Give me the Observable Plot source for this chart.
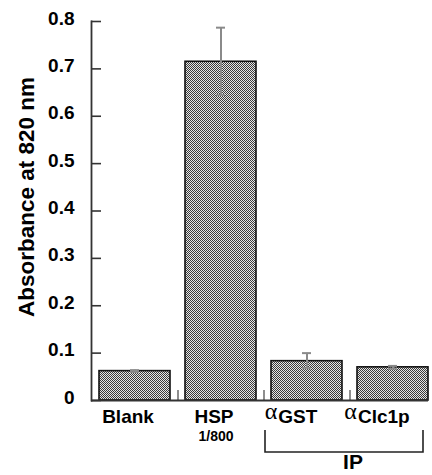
<!DOCTYPE html>
<html>
<head>
<meta charset="utf-8">
<script src="https://cdn.jsdelivr.net/npm/d3@7"></script>
<script src="https://cdn.jsdelivr.net/npm/@observablehq/plot@0.6"></script>
<style>
  html, body { margin: 0; padding: 0; background: #fff; }
  #chart svg { display: block; }
</style>
</head>
<body>
<div id="chart"></div>
<script>
// ---- data ----
const categories = ["Blank", "HSP", "αGST", "αClc1p"];
const absorbance = [0.062, 0.715, 0.083, 0.070];
const errLow     = [0.060, 0.645, 0.068, 0.067];
const errHigh    = [0.064, 0.787, 0.100, 0.073];
const subLabels  = ["", "1/800", "", ""];
const yTicks      = [0, 0.1, 0.2, 0.3, 0.4, 0.5, 0.6, 0.7, 0.8];
const yTickLabels = ["0", "0.1", "0.2", "0.3", "0.4", "0.5", "0.6", "0.7", "0.8"];
const yTitle = "Absorbance at 820 nm";
const groupLabel = "IP";
const groupMembers = ["αGST", "αClc1p"];
const boundaryTicks = ["HSP", "αGST", "αClc1p"];

const data = categories.map((c, i) => ({
  cat: c, value: absorbance[i], lo: errLow[i], hi: errHigh[i], sub: subLabels[i]
}));
const tickData = yTicks.map((v, i) => ({ v, label: yTickLabels[i] }));
const plainLabels = data.filter(d => !groupMembers.includes(d.cat));
const groupLabels = data.filter(d => groupMembers.includes(d.cat));

const font = "'Liberation Sans', Arial, Helvetica, sans-serif";

const plot = Plot.plot({
  width: 432,
  height: 475,
  marginTop: 21,
  marginBottom: 75,
  marginLeft: 91,
  marginRight: 4,
  style: { fontFamily: font, fontWeight: "bold", background: "#fff", color: "#000", overflow: "visible" },
  x: { domain: categories, range: [91, 436], paddingInner: 0.18, paddingOuter: 0.09, axis: null },
  y: { domain: [0, 0.8], axis: null },
  marks: [
    Plot.barY(data, { x: "cat", y: "value", fill: "url(#checker)", stroke: "#111", strokeWidth: 1.6 }),
    Plot.ruleX(data, { x: "cat", y1: "lo", y2: "hi", stroke: "#8a8a8a", strokeWidth: 2 }),
    Plot.tickY(data, { x: "cat", y: "hi", stroke: "#8a8a8a", strokeWidth: 2, insetLeft: 31, insetRight: 31 }),
    Plot.tickY(data, { x: "cat", y: "lo", stroke: "#8a8a8a", strokeWidth: 2, insetLeft: 31, insetRight: 31 }),
    // y ticks pointing inward
    Plot.axisY({ ticks: yTicks, tickSize: 10, dx: 10, fill: "none", label: null, stroke: "#333", strokeWidth: 1.6 }),
    // y tick labels
    Plot.text(tickData, { y: "v", text: "label", frameAnchor: "left", textAnchor: "end", dx: -17, dy: -3,
      fontSize: 19, fontWeight: "bold", fill: "#000" }),
    // small boundary ticks on baseline
    Plot.axisX({ ticks: boundaryTicks, tickSize: 10, dy: -10, dx: -43, fill: "none", label: null, stroke: "#444", strokeWidth: 1.2 }),
    Plot.frame({ anchor: "left", stroke: "#333", strokeWidth: 1.8 }),
    Plot.ruleY([0], { stroke: "#333", strokeWidth: 1.8 }),
    // category labels
    Plot.text(plainLabels, { x: "cat", text: "cat", frameAnchor: "bottom", dx: -7, dy: 22.5, fontSize: 19, fontWeight: "bold" }),
    Plot.text(groupLabels, { x: "cat", text: "cat", frameAnchor: "bottom", dx: -16, dy: 22.5, fontSize: 19, fontWeight: "bold" }),
    Plot.text(data.filter(d => d.sub), { x: "cat", text: "sub", frameAnchor: "bottom", dx: -5, dy: 40.5, fontSize: 14, fontWeight: "bold" }),
    Plot.text([{ cat: groupMembers[groupMembers.length - 1], label: groupLabel }], { x: "cat", text: "label", frameAnchor: "bottom", dx: -40, dy: 68, fontSize: 21, fontWeight: "bold" }),
    // y title
    Plot.text([yTitle], { frameAnchor: "left", textAnchor: "middle", rotate: -90, dx: -65, dy: -14, fontSize: 22.5, fontWeight: "bold" })
  ]
});

const svg = d3.select(plot);
svg.insert("defs", ":first-child").html(
  `<pattern id="checker" width="2" height="2" patternUnits="userSpaceOnUse">
     <rect width="2" height="2" fill="#e6e6e6"/>
     <rect width="1" height="1" fill="#3a3a3a"/>
     <rect x="1" y="1" width="1" height="1" fill="#3a3a3a"/>
   </pattern>`
);

// serif, raised alpha in group labels
svg.selectAll("text").each(function () {
  const t = d3.select(this);
  const s = t.text();
  if (s.startsWith("α")) {
    t.text(null);
    t.append("tspan").attr("font-family", "'Liberation Serif', 'DejaVu Serif', serif")
      .attr("font-weight", "normal").attr("font-size", 24).attr("dy", -4).text("α");
    t.append("tspan").attr("dy", 4).attr("dx", 1).text(s.slice(1));
  }
});

// bracket under the IP group, positioned from the x and y scales
const xs = plot.scale("x");
const ys = plot.scale("y");
const bw = xs.bandwidth;
const x0 = xs.apply(groupMembers[0]) - 6;
const x1 = xs.apply(groupMembers[groupMembers.length - 1]) + bw - 5;
const yb = ys.apply(0);
svg.append("path")
  .attr("d", `M${x0},${yb + 30}V${yb + 52}H${x1}V${yb + 30}`)
  .attr("fill", "none").attr("stroke", "#222").attr("stroke-width", 1.6);

document.getElementById("chart").appendChild(plot);
</script>
</body>
</html>
